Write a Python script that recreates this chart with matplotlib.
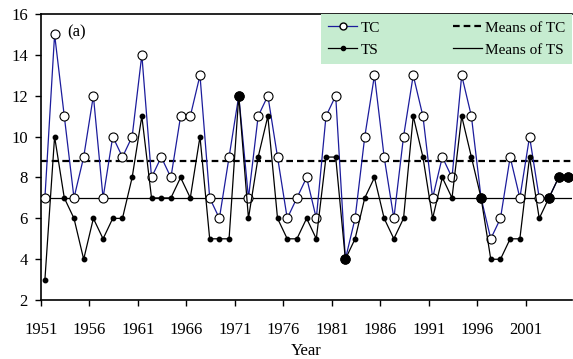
import matplotlib
matplotlib.use("Agg")
import matplotlib.pyplot as plt
import numpy as np
from matplotlib.lines import Line2D

plt.rcParams["font.family"] = ["Liberation Serif", "DejaVu Serif"]

years = np.arange(1951, 2006)
tc_counts = [7, 15, 11, 7, 9, 12, 7, 10, 9, 10,
             14, 8, 9, 8, 11, 11, 13, 7, 6, 9,
             12, 7, 11, 12, 9, 6, 7, 8, 6, 11,
             12, 4, 6, 10, 13, 9, 6, 10, 13, 11,
             7, 9, 8, 13, 11, 7, 5, 6, 9, 7,
             10, 7, 7, 8, 8]
ts_counts = [3, 10, 7, 6, 4, 6, 5, 6, 6, 8,
             11, 7, 7, 7, 8, 7, 10, 5, 5, 5,
             12, 6, 9, 11, 6, 5, 5, 6, 5, 9,
             9, 4, 5, 7, 8, 6, 5, 6, 11, 9,
             6, 8, 7, 11, 9, 7, 4, 4, 5, 5,
             9, 6, 7, 8, 8]
mean_tc = 8.8
mean_ts = 7.0
tick_years = list(range(1951, 2002, 5))

tc = np.array(tc_counts)
ts = np.array(ts_counts)
same = tc == ts

fig = plt.figure(figsize=(5.73, 3.59), dpi=100)
ax = fig.add_axes([0.0716, 0.164, 0.927, 0.797])

xmin, xmax = years[0] - 0.4, years[-1] + 0.4
ax.axhline(mean_tc, color="black", lw=1.6, ls=(0, (3, 1.8)), zorder=1)
ax.axhline(mean_ts, color="black", lw=0.9, zorder=1)

ax.plot(years, tc, color="#1c1c9c", lw=0.9, marker="o", ms=6.5,
        mfc="white", mec="black", mew=0.8, zorder=3)
ax.plot(years, ts, color="black", lw=0.9, marker="o", ms=3.2,
        mfc="black", mec="black", zorder=4)
# where both counts coincide the marker shows as a big filled dot
ax.plot(years[same], ts[same], ls="none", marker="o", ms=6.5,
        mfc="black", mec="black", zorder=5)

ax.set_xlim(xmin, xmax)
ax.set_ylim(2, 16)
ax.set_yticks(range(2, 17, 2))
ax.set_xticks([y - 0.4 for y in tick_years])
ax.set_xticklabels([str(y) for y in tick_years])
ax.tick_params(axis="both", direction="out", length=4.5, width=1,
               labelsize=12)
ax.tick_params(axis="x", pad=11)
ax.tick_params(axis="y", pad=5)
ax.spines["right"].set_visible(False)
for s in ("left", "bottom", "top"):
    ax.spines[s].set_linewidth(1.2)

ax.set_xlabel("Year", fontsize=12, labelpad=4)
ax.text(0.05, 0.935, "(a)", transform=ax.transAxes, fontsize=12,
        va="center", ha="left")

handles = [
    Line2D([], [], color="#1c1c9c", lw=0.9, marker="o", ms=5,
           mfc="white", mec="black"),
    Line2D([], [], color="black", lw=0.9, marker="o", ms=3, mfc="black"),
    Line2D([], [], color="black", lw=1.6, ls=(0, (3, 1.8))),
    Line2D([], [], color="black", lw=0.9),
]
labels = ["TC", "TS", "Means of TC", "Means of TS"]
leg = ax.legend(handles, labels, ncol=2, loc="upper right",
                bbox_to_anchor=(1.0, 1.0), borderaxespad=0,
                fontsize=11, handlelength=1.9, handletextpad=0.2,
                columnspacing=4.8, labelspacing=0.55, borderpad=0.45,
                fancybox=False, framealpha=1)
leg.get_frame().set_facecolor("#c6ecd0")
leg.get_frame().set_edgecolor("none")
leg.set_zorder(6)

fig.savefig("out.png", dpi=100)
